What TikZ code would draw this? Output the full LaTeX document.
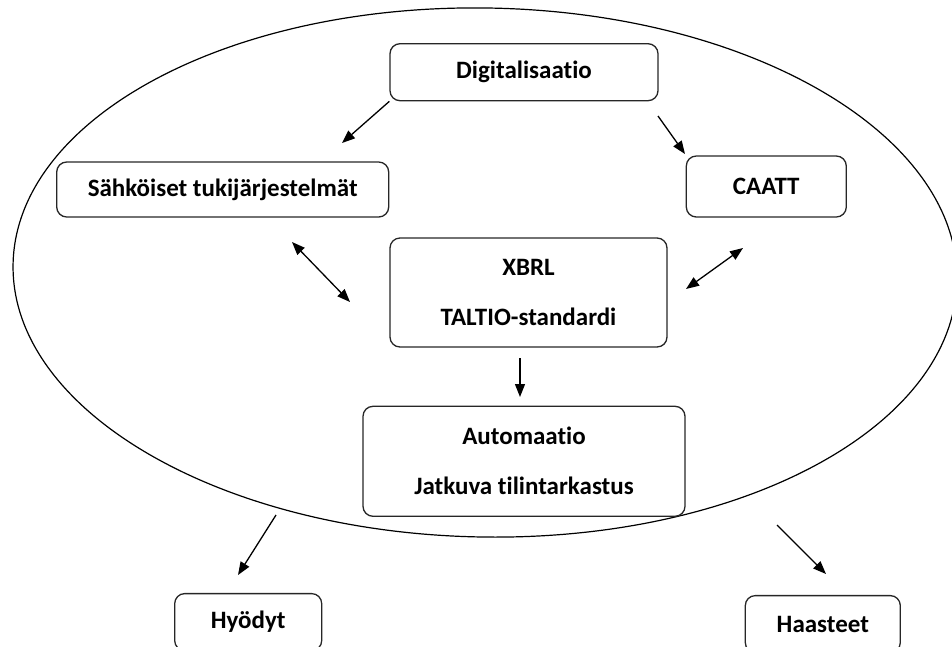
\documentclass[tikz,border=0pt]{standalone}
\usepackage{fontspec}
\setmainfont{Carlito}[Ligatures = NoCommon]
\usetikzlibrary{arrows.meta, positioning}

\begin{document}
\begin{tikzpicture}[x = 1pt, y = 1pt,
	box/.style = {draw = black!85, line width = 1.3pt, rounded corners = 10pt, inner sep = 0pt, align = center, font = \fontsize{25}{50}\selectfont\bfseries},
	arr/.style = {line width = 1.3pt, -{Triangle[length = 13pt, width = 10pt]}},
	darr/.style = {line width = 1.3pt, {Triangle[length = 13pt, width = 10pt]}-{Triangle[length = 13pt, width = 10pt]}}]
	\useasboundingbox (0, 0) rectangle (952, -646);

	\draw[line width = 1.2pt, rotate around = {-1:(485, -272.5)}] (485, -272.5) ellipse [x radius = 472, y radius = 264.5];

	\node[box, minimum width = 277pt, minimum height = 109pt] (xbrl) at (528.5, -292.5) {XBRL\\TALTIO-standardi};
	\node[box, minimum width = 268pt, minimum height = 57pt, above = 136pt of xbrl, xshift = -4.5pt] (digi) {Digitalisaatio};
	\node[box, minimum width = 332pt, minimum height = 55pt, below left = 60pt and 0pt of digi.south west] (sahko) {Sähköiset tukijärjestelmät};
	\node[box, minimum width = 160pt, minimum height = 61pt, below right = 54pt and 27pt of digi.south east] (caatt) {CAATT};
	\node[box, minimum width = 322pt, minimum height = 110pt, below = 58pt of xbrl, xshift = -4.5pt] (auto) {Automaatio\\Jatkuva tilintarkastus};
	\node[box, minimum width = 147pt, minimum height = 57pt, below left = 76pt and 40pt of auto.south west] (hyodyt) {Hyödyt};
	\node[box, minimum width = 155pt, minimum height = 57pt, below right = 78pt and 59pt of auto.south east] (haasteet) {Haasteet};

	\coordinate (d1) at (342, -143);
	\coordinate (d2) at (658, -116);
	\coordinate (c2) at (685, -154);
	\coordinate (s1) at (292, -242);
	\coordinate (x1) at (350, -302);
	\coordinate (c3) at (743, -248);
	\coordinate (x2) at (686, -289);
	\coordinate (x3) at (520, -358);
	\coordinate (a1) at (520, -397);
	\coordinate (e1) at (276, -515);
	\coordinate (h1) at (238, -575);
	\coordinate (e2) at (777, -525);
	\coordinate (h2) at (826, -574);

	\draw[arr] (digi.south west) -- (d1);
	\draw[arr] (d2) -- (c2);
	\draw[darr] (s1) -- (x1);
	\draw[darr] (c3) -- (x2);
	\draw[arr] (x3) -- (a1);
	\draw[arr] (e1) -- (h1);
	\draw[arr] (e2) -- (h2);
\end{tikzpicture}
\end{document}
